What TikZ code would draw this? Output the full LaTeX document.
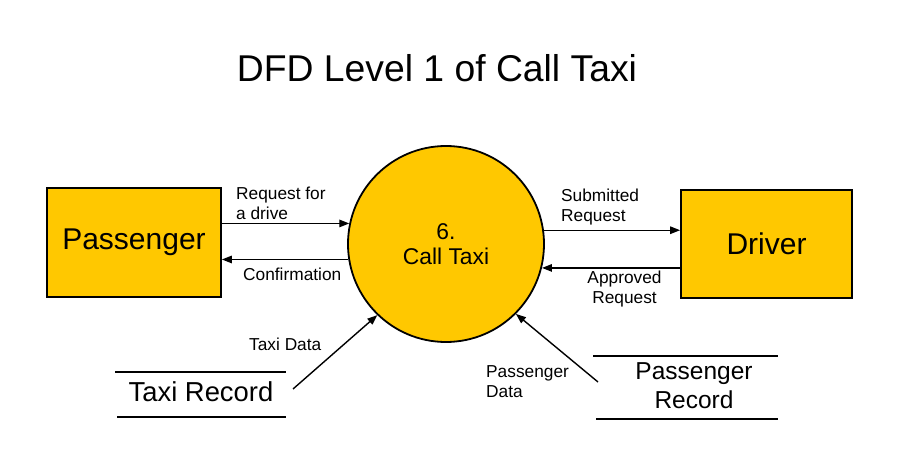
\documentclass[tikz,border=0pt]{standalone}
\usepackage{fontspec}
\setmainfont{Liberation Sans}
\usetikzlibrary{arrows.meta}
\definecolor{dfdyellow}{RGB}{255,200,0}
\tikzset{
  entity/.style={draw=black, line width=1.8pt, fill=dfdyellow, inner sep=0pt,
    font=\fontsize{30}{34}\selectfont},
  process/.style={circle, draw=black, line width=1.8pt, fill=dfdyellow, inner sep=0pt,
    minimum size=196pt, align=center, font=\fontsize{22.8}{25}\selectfont},
  flow/.style={line width=1.4pt, -{Triangle[length=10pt,width=7.5pt]}},
  flowlabel/.style={inner sep=0pt, font=\fontsize{17.3}{20}\selectfont},
  recline/.style={line width=1.8pt},
}
\begin{document}
\begin{tikzpicture}[x=1pt,y=-1pt]
\useasboundingbox (0,0) rectangle (900,460);
\node[inner sep=0pt, font=\fontsize{37.3}{40}\selectfont] (title) at (437,68) {DFD Level 1 of Call Taxi};

\node[entity, minimum width=174pt, minimum height=109pt] (p) at (134,242.5) {Passenger};
\node[entity, minimum width=171pt, minimum height=108pt] (d) at (766.5,244) {Driver};
\node[process] (c) at (446,244) {6.\\Call Taxi};

% horizontal flows
\draw[flow] (p.east |- c.168) -- (c.168);
\draw[flow] (c.189) -- (p.east |- c.189);
\draw[flow] (c.8) -- (d.west |- c.8);
\draw[flow] (d.west |- c.-14) -- (c.-14);

\node[flowlabel, anchor=west, align=left] (l1) at (236,203) {Request for\\a drive};
\node[flowlabel, anchor=west] (l2) at (243,274) {Confirmation};
\node[flowlabel, anchor=west, align=left] (l3) at (561,207) {Submitted\\Request};
\node[flowlabel, anchor=center, align=center] (l4) at (624.5,289) {Approved\\Request};

% data stores
\node[inner sep=0pt, font=\fontsize{27.4}{30}\selectfont] (tr) at (201,392) {Taxi Record};
\draw[recline] (115,372) -- (286,372);
\draw[recline] (117,417) -- (286,417);
\node[inner sep=0pt, align=center, font=\fontsize{24.5}{29}\selectfont] (pr) at (694,386) {Passenger\\Record};
\draw[recline] (593,356) -- (778,356);
\draw[recline] (596,419) -- (778,419);

\coordinate (trout) at (293,389);
\coordinate (prout) at (598,382);
\draw[flow] (trout) -- (c.226);
\draw[flow] (prout) -- (c.-45);

\node[flowlabel, anchor=west] (l5) at (249,344) {Taxi Data};
\node[flowlabel, anchor=west, align=left] (l6) at (486,382) {Passenger\\Data};
\end{tikzpicture}
\end{document}
